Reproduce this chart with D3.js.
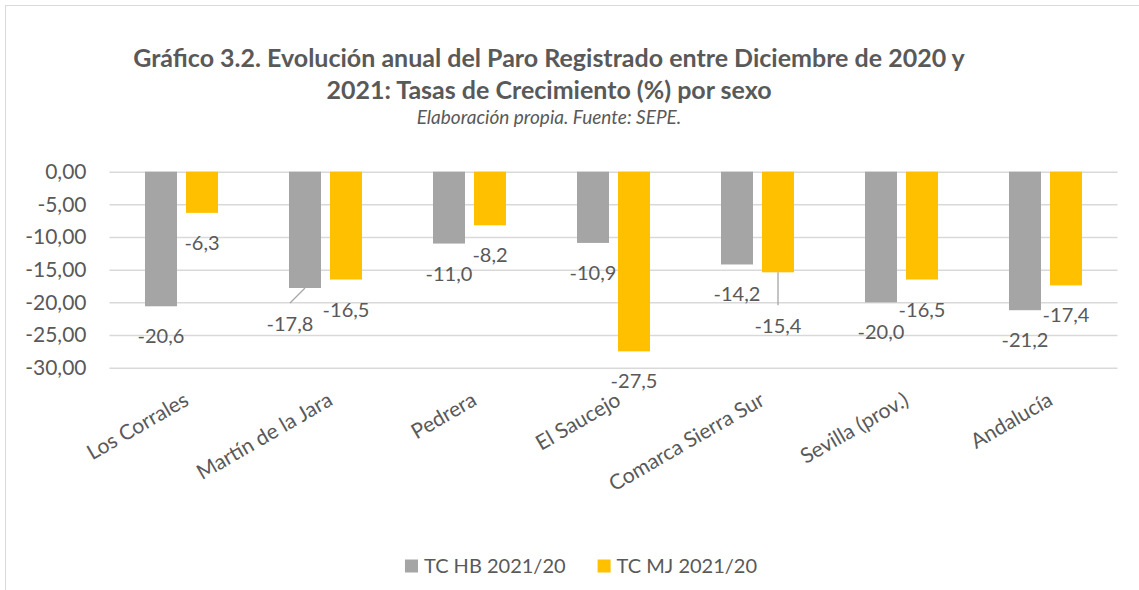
<!DOCTYPE html>
<html>
<head>
<meta charset="utf-8">
<script src="https://cdn.jsdelivr.net/npm/d3@7"></script>
<style>
  body { margin: 0; background: #fff; }
  svg text { font-family: Lato, "Open Sans", sans-serif; fill: #595959; }
</style>
</head>
<body>
<div id="chart"></div>
<script>
var categories = ["Los Corrales", "Martín de la Jara", "Pedrera", "El Saucejo", "Comarca Sierra Sur", "Sevilla (prov.)", "Andalucía"];
var seriesNames = ["TC HB 2021/20", "TC MJ 2021/20"];
var hbValues = [-20.6, -17.8, -11.0, -10.9, -14.2, -20.0, -21.2];
var mjValues = [-6.3, -16.5, -8.2, -27.5, -15.4, -16.5, -17.4];
var yTicks = [0, -5, -10, -15, -20, -25, -30];

var colors = ["#a5a5a5", "#ffc000"];
// labels that were dragged away from their bar in the original (get a leader line)
var labelNudge = { "1-0": [-15, 6], "4-1": [0, 24] };

var width = 1139, height = 590;
var margin = { top: 171.7, left: 109.5, right: 21.5 };
var plotBottom = 367.7;

var locale = d3.formatLocale({ decimal: ",", thousands: ".", grouping: [3], currency: ["", "€"], minus: "-" });
var fmtTick = locale.format(".2f");
var fmtLabel = locale.format(".1f");

var svg = d3.select("#chart").append("svg")
  .attr("width", width)
  .attr("height", height);

// chart area border
svg.append("rect")
  .attr("x", 5.5).attr("y", 5.5)
  .attr("width", 1300).attr("height", 700)
  .attr("fill", "none")
  .attr("stroke", "#d9d9d9")
  .attr("stroke-width", 1);

var x0 = d3.scaleBand()
  .domain(categories)
  .range([margin.left, width - margin.right])
  .paddingInner(0.493)
  .paddingOuter(0.2465);

var x1 = d3.scaleBand()
  .domain([0, 1])
  .range([0, x0.bandwidth()])
  .paddingInner(0.22);

var y = d3.scaleLinear()
  .domain([-30, 0])
  .range([plotBottom, margin.top]);

// gridlines + y labels
var yAxis = d3.axisLeft(y)
  .tickValues(yTicks)
  .tickSize(-(width - margin.right - margin.left))
  .tickPadding(23)
  .tickFormat(fmtTick);

var gy = svg.append("g")
  .attr("transform", "translate(" + margin.left + ",0)")
  .call(yAxis);
gy.select(".domain").remove();
gy.selectAll(".tick line").attr("stroke", "#d9d9d9").attr("stroke-width", 1.5);
gy.selectAll(".tick text")
  .attr("font-size", "21px")
  .attr("fill", "#595959")
  .style("font-family", "Lato, 'Open Sans', sans-serif");

var rows = categories.map(function (c, i) {
  return { cat: c, idx: i, values: [hbValues[i], mjValues[i]] };
});

var groups = svg.append("g").selectAll("g")
  .data(rows)
  .enter().append("g")
  .attr("transform", function (d) { return "translate(" + x0(d.cat) + ",0)"; });

groups.selectAll("rect")
  .data(function (d) { return d.values.map(function (v, s) { return { v: v, s: s }; }); })
  .enter().append("rect")
  .attr("x", function (d) { return x1(d.s); })
  .attr("width", x1.bandwidth())
  .attr("y", function (d) { return y(0); })
  .attr("height", function (d) { return y(d.v) - y(0); })
  .attr("fill", function (d) { return colors[d.s]; });

// data labels
var labels = [];
rows.forEach(function (r) {
  r.values.forEach(function (v, s) {
    var bx = x0(r.cat) + x1(s) + x1.bandwidth() / 2;
    var by = y(v);
    var n = labelNudge[r.idx + "-" + s] || [0, 0];
    labels.push({ v: v, bx: bx, by: by, lx: bx + n[0], ly: by + 30 + n[1], moved: !!labelNudge[r.idx + "-" + s] });
  });
});

svg.append("g").selectAll("line")
  .data(labels.filter(function (d) { return d.moved; }))
  .enter().append("line")
  .attr("x1", function (d) { return d.bx; })
  .attr("y1", function (d) { return d.by; })
  .attr("x2", function (d) { return d.lx; })
  .attr("y2", function (d) { return d.ly - 21; })
  .attr("stroke", "#a6a6a6")
  .attr("stroke-width", 1.3);

svg.append("g").selectAll("text")
  .data(labels)
  .enter().append("text")
  .attr("x", function (d) { return d.lx; })
  .attr("y", function (d) { return d.ly + 7; })
  .attr("text-anchor", "middle")
  .attr("font-size", "20px")
  .text(function (d) { return fmtLabel(d.v); });

// category labels
svg.append("g").selectAll("text")
  .data(categories)
  .enter().append("text")
  .attr("transform", function (d) {
    return "translate(" + (x0(d) + x0.bandwidth() / 2 + 1) + ",391) rotate(-30)";
  })
  .attr("text-anchor", "end")
  .attr("dy", "0.72em")
  .attr("font-size", "21px")
  .text(function (d) { return d; });

// title
var titleX = 549;
svg.append("text")
  .attr("x", titleX).attr("y", 67)
  .attr("text-anchor", "middle")
  .attr("font-size", "25px")
  .attr("font-weight", "bold")
  .text("Gráfico 3.2. Evolución anual del Paro Registrado entre Diciembre de 2020 y");
svg.append("text")
  .attr("x", titleX).attr("y", 99)
  .attr("text-anchor", "middle")
  .attr("font-size", "25px")
  .attr("font-weight", "bold")
  .text("2021: Tasas de Crecimiento (%) por sexo");
svg.append("text")
  .attr("x", titleX).attr("y", 124)
  .attr("text-anchor", "middle")
  .attr("font-size", "19px")
  .attr("font-style", "italic")
  .text("Elaboración propia. Fuente: SEPE.");

// legend
var legend = svg.append("g");
var items = legend.selectAll("g")
  .data(seriesNames)
  .enter().append("g");
items.append("rect")
  .attr("width", 13).attr("height", 13)
  .attr("y", 559.5)
  .attr("fill", function (d, i) { return colors[i]; });
items.append("text")
  .attr("x", 19)
  .attr("y", 573)
  .attr("font-size", "20px")
  .text(function (d) { return d; });

var xs = 0, positions = [];
items.each(function () {
  var w = d3.select(this).select("text").node().getComputedTextLength() + 19;
  positions.push(xs);
  xs += w + 32;
});
var total = xs - 32;
var legendCenter = 581;
items.attr("transform", function (d, i) {
  return "translate(" + (legendCenter - total / 2 + positions[i]) + ",0)";
});
</script>
</body>
</html>
